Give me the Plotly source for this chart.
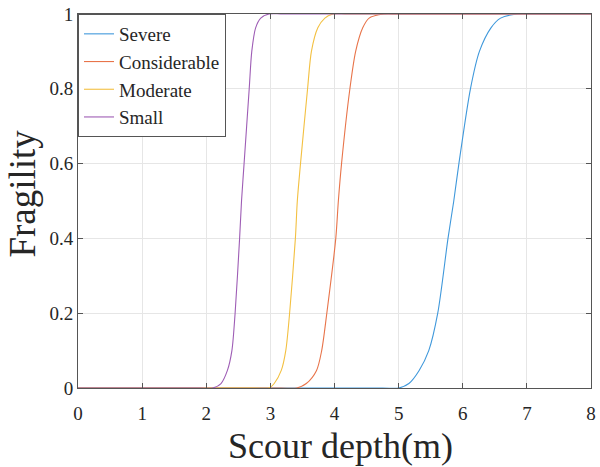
import plotly.graph_objects as go

# Fragility levels (shared y-values for each curve)
fragility = [0, 0, 0, 0.012, 0.047, 0.1, 0.2, 0.4, 0.5, 0.6, 0.8, 0.9, 0.963, 0.989, 1, 1, 1]

# Scour depth (m) at which each curve reaches the fragility level above
depth_severe = [0, 4.75, 5.0, 5.16, 5.32, 5.47, 5.61, 5.77, 5.86, 5.94, 6.12, 6.26, 6.44, 6.59, 6.85, 7.1, 8]
depth_considerable = [0, 3.16, 3.41, 3.56, 3.72, 3.80, 3.88, 4.02, 4.06, 4.11, 4.24, 4.33, 4.44, 4.54, 4.77, 5.0, 8]
depth_moderate = [0, 2.75, 2.98, 3.06, 3.17, 3.24, 3.30, 3.39, 3.42, 3.47, 3.58, 3.64, 3.74, 3.85, 3.98, 4.2, 8]
depth_small = [0, 1.9, 2.10, 2.23, 2.33, 2.40, 2.45, 2.52, 2.55, 2.59, 2.67, 2.71, 2.77, 2.85, 2.98, 3.2, 8]

series_names = ["Severe", "Considerable", "Moderate", "Small"]
series_depths = [depth_severe, depth_considerable, depth_moderate, depth_small]
series_colors = ["#3F98DB", "#E8744A", "#F3C041", "#9E5DB5"]

x_ticks = [0, 1, 2, 3, 4, 5, 6, 7, 8]
y_ticks = [0, 0.2, 0.4, 0.6, 0.8, 1]
y_tick_labels = ["0", "0.2", "0.4", "0.6", "0.8", "1"]

x_title = "Scour depth(m)"
y_title = "Fragility"

FONT = "Liberation Serif"
TXT = "#262626"

fig = go.Figure()
for name, xs, col in zip(series_names, series_depths, series_colors):
    fig.add_trace(go.Scatter(
        x=xs, y=fragility, mode="lines", name=name,
        line=dict(color=col, width=1.1, shape="spline", smoothing=0.8),
    ))

axis_common = dict(
    showline=True, linecolor="#555555", linewidth=1, mirror="ticks",
    ticks="inside", ticklen=5, tickcolor="#555555", tickwidth=1,
    showgrid=True, gridcolor="#e6e6e6", gridwidth=1,
    zeroline=False, tickfont=dict(family=FONT, size=19, color=TXT),
    ticklabeloverflow="allow",
)

fig.update_layout(
    width=600, height=467,
    margin=dict(l=78, r=4, t=12, b=79),
    paper_bgcolor="white", plot_bgcolor="white",
    font=dict(family=FONT, color=TXT),
    xaxis=dict(range=[0, 8], tickvals=x_ticks, ticklabelstandoff=8, **axis_common),
    yaxis=dict(range=[0, 1], tickvals=y_ticks, ticktext=y_tick_labels, **axis_common),
    legend=dict(x=0, y=1, xanchor="left", yanchor="top",
                bgcolor="white", bordercolor="#555555", borderwidth=1,
                font=dict(family=FONT, size=19, color=TXT),
                tracegroupgap=0, itemwidth=30),
    showlegend=True,
    annotations=[
        dict(text=x_title, xref="paper", yref="paper", x=0.5116, y=-0.155,
             xanchor="center", yanchor="middle", showarrow=False,
             font=dict(family=FONT, size=36, color=TXT)),
        dict(text=y_title, xref="paper", yref="paper", x=-0.109, y=0.52,
             xanchor="center", yanchor="middle", showarrow=False, textangle=-90,
             font=dict(family=FONT, size=37, color=TXT)),
    ],
)

fig.write_html("out.html")
